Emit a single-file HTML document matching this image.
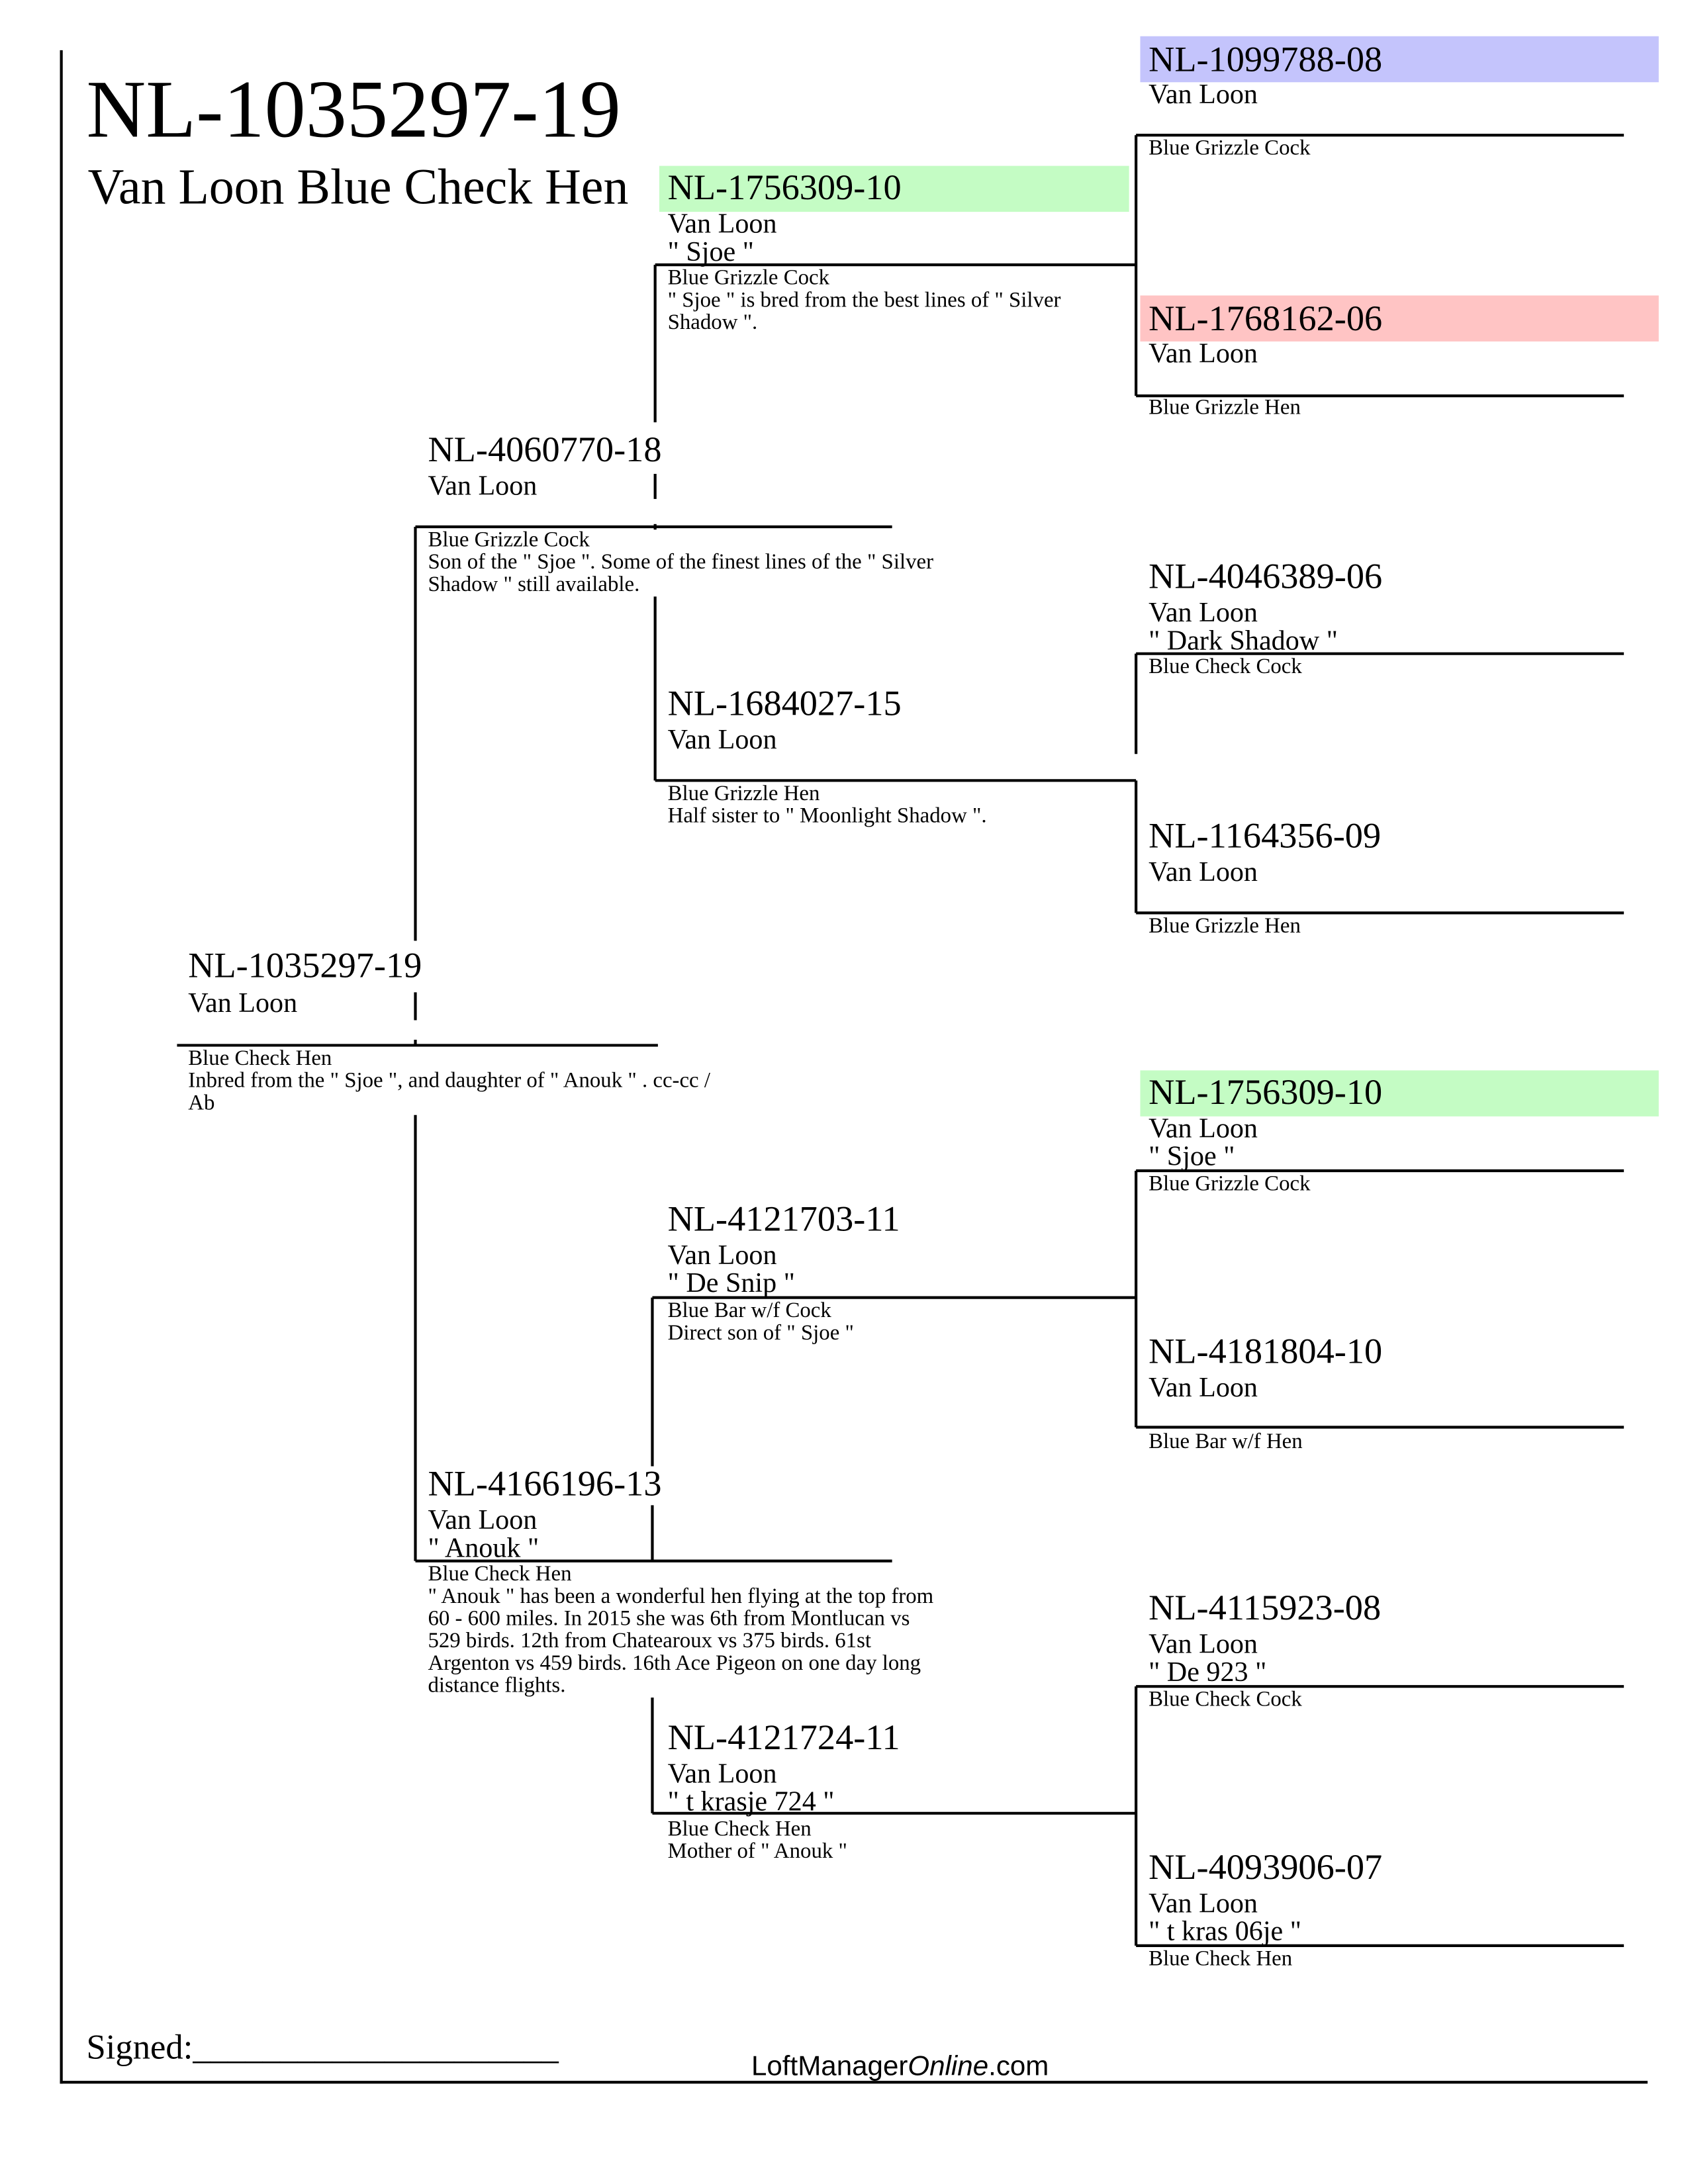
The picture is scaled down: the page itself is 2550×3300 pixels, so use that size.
<!DOCTYPE html>
<html><head><meta charset="utf-8"><style>
html,body{margin:0;padding:0;background:#fff;}
svg{display:block;}
text{font-family:"Liberation Serif",serif;fill:#000;}
.id{font-size:25.8px;}
.nm{font-size:20px;}
.sm{font-size:15.6px;}
</style></head><body>
<svg width="2550" height="3300" viewBox="0 0 1211 1567" preserveAspectRatio="none" xmlns="http://www.w3.org/2000/svg">
<g stroke="#000" stroke-width="2" fill="none">
<line x1="44" y1="36" x2="44" y2="1495"/>
<line x1="43" y1="1494" x2="1182" y2="1494"/>
<line x1="815" y1="97" x2="1165" y2="97"/>
<line x1="815" y1="284" x2="1165" y2="284"/>
<line x1="815" y1="97" x2="815" y2="284"/>
<line x1="815" y1="469" x2="1165" y2="469"/>
<line x1="815" y1="655" x2="1165" y2="655"/>
<line x1="815" y1="469" x2="815" y2="541"/>
<line x1="815" y1="560" x2="815" y2="655"/>
<line x1="815" y1="840" x2="1165" y2="840"/>
<line x1="815" y1="1024" x2="1165" y2="1024"/>
<line x1="815" y1="840" x2="815" y2="1024"/>
<line x1="815" y1="1210" x2="1165" y2="1210"/>
<line x1="815" y1="1396" x2="1165" y2="1396"/>
<line x1="815" y1="1210" x2="815" y2="1396"/>
<line x1="470" y1="190" x2="815" y2="190"/>
<line x1="470" y1="560" x2="815" y2="560"/>
<line x1="470" y1="190" x2="470" y2="303"/>
<line x1="470" y1="340" x2="470" y2="358"/>
<line x1="470" y1="376" x2="470" y2="380"/>
<line x1="470" y1="428" x2="470" y2="560"/>
<line x1="468" y1="931" x2="815" y2="931"/>
<line x1="468" y1="1301" x2="815" y2="1301"/>
<line x1="468" y1="931" x2="468" y2="1052"/>
<line x1="468" y1="1080" x2="468" y2="1120"/>
<line x1="468" y1="1218" x2="468" y2="1301"/>
<line x1="298" y1="378" x2="640" y2="378"/>
<line x1="298" y1="1120" x2="640" y2="1120"/>
<line x1="298" y1="378" x2="298" y2="675"/>
<line x1="298" y1="712" x2="298" y2="732"/>
<line x1="298" y1="746" x2="298" y2="750"/>
<line x1="298" y1="800" x2="298" y2="1120"/>
<line x1="127" y1="750" x2="472" y2="750"/>
</g>
<rect x="818" y="26" width="372" height="33" fill="#c4c4fc"/>
<rect x="818" y="212" width="372" height="33" fill="#ffc4c4"/>
<rect x="818" y="768" width="372" height="33" fill="#c4fcc4"/>
<rect x="473" y="119" width="337" height="33" fill="#c4fcc4"/>

<text x="62" y="98" style="font-size:59px">NL-1035297-19</text>
<text x="63" y="146" style="font-size:36px">Van Loon Blue Check Hen</text>

<text class="id" x="824" y="51">NL-1099788-08</text>
<text class="nm" x="824" y="74">Van Loon</text>
<text class="sm" x="824" y="111">Blue Grizzle Cock</text>

<text class="id" x="824" y="237">NL-1768162-06</text>
<text class="nm" x="824" y="260">Van Loon</text>
<text class="sm" x="824" y="297">Blue Grizzle Hen</text>

<text class="id" x="824" y="422">NL-4046389-06</text>
<text class="nm" x="824" y="446">Van Loon</text>
<text class="nm" x="824" y="466">" Dark Shadow "</text>
<text class="sm" x="824" y="483">Blue Check Cock</text>

<text class="id" x="824" y="608">NL-1164356-09</text>
<text class="nm" x="824" y="632">Van Loon</text>
<text class="sm" x="824" y="669">Blue Grizzle Hen</text>

<text class="id" x="824" y="792">NL-1756309-10</text>
<text class="nm" x="824" y="816">Van Loon</text>
<text class="nm" x="824" y="836">" Sjoe "</text>
<text class="sm" x="824" y="854">Blue Grizzle Cock</text>

<text class="id" x="824" y="978">NL-4181804-10</text>
<text class="nm" x="824" y="1002">Van Loon</text>
<text class="sm" x="824" y="1039">Blue Bar w/f Hen</text>

<text class="id" x="824" y="1162">NL-4115923-08</text>
<text class="nm" x="824" y="1186">Van Loon</text>
<text class="nm" x="824" y="1206">" De 923 "</text>
<text class="sm" x="824" y="1224">Blue Check Cock</text>

<text class="id" x="824" y="1348">NL-4093906-07</text>
<text class="nm" x="824" y="1372">Van Loon</text>
<text class="nm" x="824" y="1392">" t kras 06je "</text>
<text class="sm" x="824" y="1410">Blue Check Hen</text>

<text class="id" x="479" y="143">NL-1756309-10</text>
<text class="nm" x="479" y="167">Van Loon</text>
<text class="nm" x="479" y="187">" Sjoe "</text>
<text class="sm" x="479" y="204">Blue Grizzle Cock</text>
<text class="sm" x="479" y="220">" Sjoe " is bred from the best lines of " Silver</text>
<text class="sm" x="479" y="236">Shadow ".</text>

<text class="id" x="479" y="513">NL-1684027-15</text>
<text class="nm" x="479" y="537">Van Loon</text>
<text class="sm" x="479" y="574">Blue Grizzle Hen</text>
<text class="sm" x="479" y="590">Half sister to " Moonlight Shadow ".</text>

<text class="id" x="479" y="883">NL-4121703-11</text>
<text class="nm" x="479" y="907">Van Loon</text>
<text class="nm" x="479" y="927">" De Snip "</text>
<text class="sm" x="479" y="945">Blue Bar w/f Cock</text>
<text class="sm" x="479" y="961">Direct son of " Sjoe "</text>

<text class="id" x="479" y="1255">NL-4121724-11</text>
<text class="nm" x="479" y="1279">Van Loon</text>
<text class="nm" x="479" y="1299">" t krasje 724 "</text>
<text class="sm" x="479" y="1317">Blue Check Hen</text>
<text class="sm" x="479" y="1333">Mother of " Anouk "</text>

<text class="id" x="307" y="331">NL-4060770-18</text>
<text class="nm" x="307" y="355">Van Loon</text>
<text class="sm" x="307" y="392">Blue Grizzle Cock</text>
<text class="sm" x="307" y="408">Son of the " Sjoe ". Some of the finest lines of the " Silver</text>
<text class="sm" x="307" y="424">Shadow " still available.</text>

<text class="id" x="307" y="1073">NL-4166196-13</text>
<text class="nm" x="307" y="1097">Van Loon</text>
<text class="nm" x="307" y="1117">" Anouk "</text>
<text class="sm" x="307" y="1134">Blue Check Hen</text>
<text class="sm" x="307" y="1150">" Anouk " has been a wonderful hen flying at the top from</text>
<text class="sm" x="307" y="1166">60 - 600 miles. In 2015 she was 6th from Montlucan vs</text>
<text class="sm" x="307" y="1182">529 birds. 12th from Chatearoux vs 375 birds. 61st</text>
<text class="sm" x="307" y="1198">Argenton vs 459 birds. 16th Ace Pigeon on one day long</text>
<text class="sm" x="307" y="1214">distance flights.</text>

<text class="id" x="135" y="701">NL-1035297-19</text>
<text class="nm" x="135" y="726">Van Loon</text>
<text class="sm" x="135" y="764">Blue Check Hen</text>
<text class="sm" x="135" y="780">Inbred from the " Sjoe ", and daughter of " Anouk " . cc-cc /</text>
<text class="sm" x="135" y="796">Ab</text>

<text x="62" y="1477" style="font-size:25px">Signed:_____________________</text>
<text x="539" y="1489" style="font-family:'Liberation Sans',sans-serif;font-size:20px">LoftManager<tspan font-style="italic">Online</tspan>.com</text>
</svg>
</body></html>
